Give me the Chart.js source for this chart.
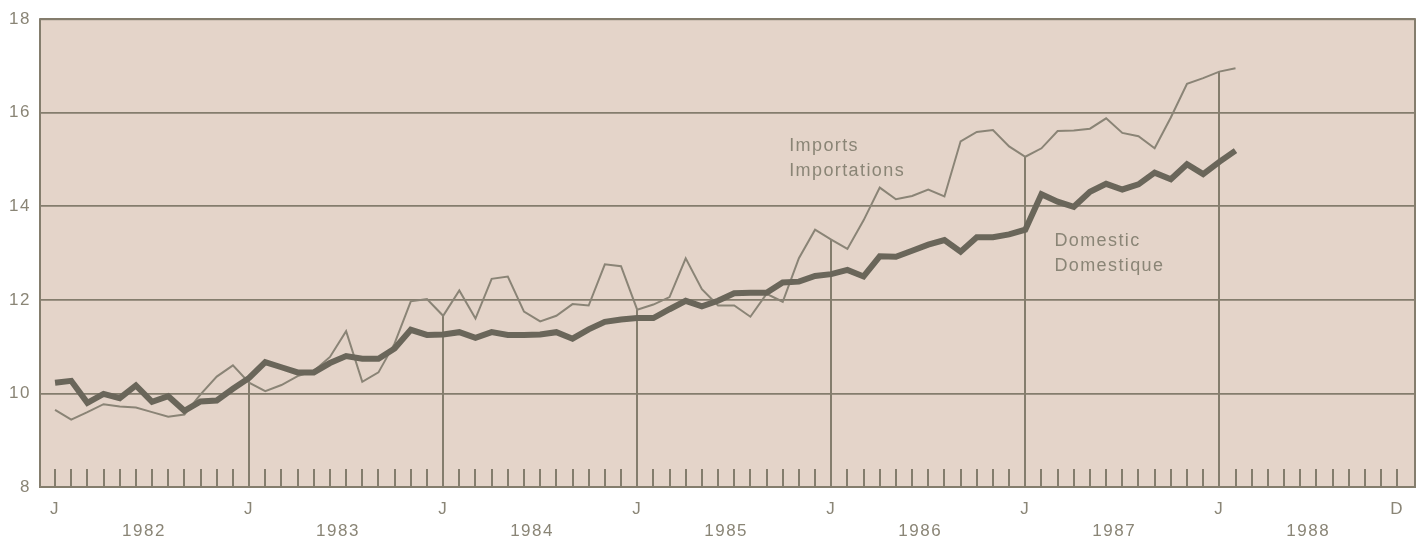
<!DOCTYPE html>
<html>
<head>
<meta charset="utf-8">
<script src="https://cdn.jsdelivr.net/npm/chart.js@4/dist/chart.umd.min.js"></script>
<style>
  html, body { margin: 0; padding: 0; background: #ffffff; }
  #wrap { width: 1418px; height: 543px; }
</style>
</head>
<body>
<div id="wrap"><canvas id="myChart01"></canvas></div>
<script>
// Jan 1982 .. Feb 1988, monthly
const domestic = [
    10.23, 10.27, 9.80, 9.99, 9.90, 10.17, 9.82, 9.94, 9.63, 9.83, 9.85, 10.10,
    10.33, 10.67, 10.56, 10.45, 10.45, 10.65, 10.80, 10.74, 10.74, 10.96, 11.36, 11.25,
    11.26, 11.31, 11.19, 11.31, 11.25, 11.25, 11.26, 11.31, 11.17, 11.37, 11.53, 11.58,
    11.61, 11.61, 11.80, 11.98, 11.86, 11.98, 12.14, 12.15, 12.15, 12.37, 12.39, 12.51,
    12.55, 12.64, 12.50, 12.93, 12.92, 13.05, 13.18, 13.28, 13.03, 13.34, 13.34, 13.40,
    13.50, 14.26, 14.10, 13.99, 14.31, 14.48, 14.36, 14.47, 14.72, 14.58, 14.90, 14.69,
    14.95, 15.19
];
const imports = [
    9.65, 9.44, 9.60, 9.77, 9.72, 9.70, 9.60, 9.50, 9.55, 9.98, 10.36, 10.60,
    10.23, 10.05, 10.18, 10.37, 10.48, 10.78, 11.33, 10.25, 10.45, 11.07, 11.97, 12.02,
    11.66, 12.20, 11.60, 12.45, 12.50, 11.75, 11.54, 11.66, 11.91, 11.88, 12.76, 12.72,
    11.79, 11.90, 12.06, 12.89, 12.23, 11.88, 11.88, 11.64, 12.13, 11.96, 12.89, 13.50,
    13.29, 13.09, 13.70, 14.40, 14.15, 14.22, 14.36, 14.21, 15.39, 15.59, 15.63, 15.28,
    15.06, 15.24, 15.61, 15.62, 15.66, 15.88, 15.57, 15.50, 15.24, 15.90, 16.62, 16.74,
    16.88, 16.95
];
const yearLabels = ['1982', '1983', '1984', '1985', '1986', '1987', '1988'];
const monthTickIndex = [0, 12, 24, 36, 48, 60, 72, 83];
const monthTickLabels = ['J', 'J', 'J', 'J', 'J', 'J', 'J', 'D'];
const monthCount = 84;
const notes = [['Imports', 'Importations'], ['Domestic', 'Domestique']];

const textColor = '#8a8576';
const gridColor = '#847d6d';
const tickFont = { family: "'Liberation Sans', Arial, sans-serif", size: 17 };

const decor = {
    id: 'decor',
    beforeUpdate(chart) {
        chart.ctx.letterSpacing = '1.5px';
    },
    beforeDraw(chart) {
        const { ctx, chartArea: a } = chart;
        ctx.save();
        ctx.fillStyle = '#e4d4c9';
        ctx.fillRect(a.left, a.top, a.right - a.left, a.bottom - a.top);
        ctx.restore();
        ctx.letterSpacing = '1.5px';
    },
    beforeDatasetsDraw(chart) {
        const { ctx, chartArea: a, scales } = chart;
        const x = scales.x, y = scales.y;
        ctx.save();
        ctx.strokeStyle = gridColor;
        // small monthly marks
        ctx.lineWidth = 2;
        for (let i = 0; i < monthCount; i++) {
            const px = Math.round(x.getPixelForValue(i));
            ctx.beginPath();
            ctx.moveTo(px, a.bottom);
            ctx.lineTo(px, a.bottom - 18);
            ctx.stroke();
        }
        // January drop lines up to the higher series
        for (let i = 12; i < domestic.length; i += 12) {
            const px = Math.round(x.getPixelForValue(i));
            const top = y.getPixelForValue(Math.max(domestic[i], imports[i]));
            ctx.beginPath();
            ctx.moveTo(px, a.bottom);
            ctx.lineTo(px, top);
            ctx.stroke();
        }
        // frame
        ctx.strokeRect(a.left, a.top, a.right - a.left, a.bottom - a.top);
        ctx.restore();
    },
    afterDatasetsDraw(chart) {
        const { ctx, scales } = chart;
        const anchors = [[45.4, 15.18], [61.8, 13.16]];
        ctx.save();
        ctx.fillStyle = textColor;
        ctx.font = "18px 'Liberation Sans', Arial, sans-serif";
        ctx.letterSpacing = '1.4px';
        ctx.textAlign = 'left';
        ctx.textBaseline = 'alphabetic';
        notes.forEach((lines, n) => {
            const px = scales.x.getPixelForValue(anchors[n][0]);
            const py = scales.y.getPixelForValue(anchors[n][1]);
            lines.forEach((t, k) => ctx.fillText(t, px, py + k * 25));
        });
        ctx.restore();
    }
};

const ctx01 = document.getElementById('myChart01').getContext('2d');
const myChart01 = new Chart(ctx01, {
    type: 'line',
    data: {
        datasets: [
            {
                label: 'Domestic',
                data: domestic.map((v, i) => ({ x: i, y: v })),
                borderColor: '#6a665a',
                borderWidth: 6,
                pointRadius: 0,
                tension: 0,
                order: 0
            },
            {
                label: 'Imports',
                data: imports.map((v, i) => ({ x: i, y: v })),
                borderColor: '#8a8476',
                borderWidth: 2,
                pointRadius: 0,
                tension: 0,
                order: 1
            }
        ]
    },
    options: {
        responsive: true,
        maintainAspectRatio: false,
        animation: false,
        layout: { padding: { top: 16, right: 3, left: 0, bottom: 0 } },
        plugins: {
            legend: { display: false },
            tooltip: { enabled: false }
        },
        scales: {
            x: {
                type: 'linear',
                position: 'bottom',
                bounds: 'data',
                min: -0.93,
                max: 84.1,
                afterBuildTicks: s => { s.ticks = monthTickIndex.map(v => ({ value: v })); },
                afterFit: s => { s.height = 30; },
                ticks: {
                    autoSkip: false,
                    maxRotation: 0,
                    padding: 12,
                    color: textColor,
                    font: tickFont,
                    callback: (v, i) => monthTickLabels[i]
                },
                grid: { display: false, drawTicks: false },
                border: { display: false }
            },
            x2: {
                type: 'linear',
                position: 'bottom',
                bounds: 'data',
                min: -0.93,
                max: 84.1,
                afterBuildTicks: s => { s.ticks = yearLabels.map((y, i) => ({ value: 5.5 + 12 * i })); },
                afterFit: s => { s.height = 26; },
                ticks: {
                    autoSkip: false,
                    maxRotation: 0,
                    padding: 4,
                    color: textColor,
                    font: tickFont,
                    callback: (v, i) => yearLabels[i]
                },
                grid: { display: false, drawTicks: false },
                border: { display: false }
            },
            y: {
                min: 8,
                max: 18,
                afterFit: s => { s.width = 40; },
                ticks: {
                    stepSize: 2,
                    padding: 9,
                    color: textColor,
                    font: tickFont
                },
                grid: { color: gridColor, lineWidth: 1.8, drawTicks: false },
                border: { display: false }
            }
        }
    },
    plugins: [decor]
});
</script>
</body>
</html>
